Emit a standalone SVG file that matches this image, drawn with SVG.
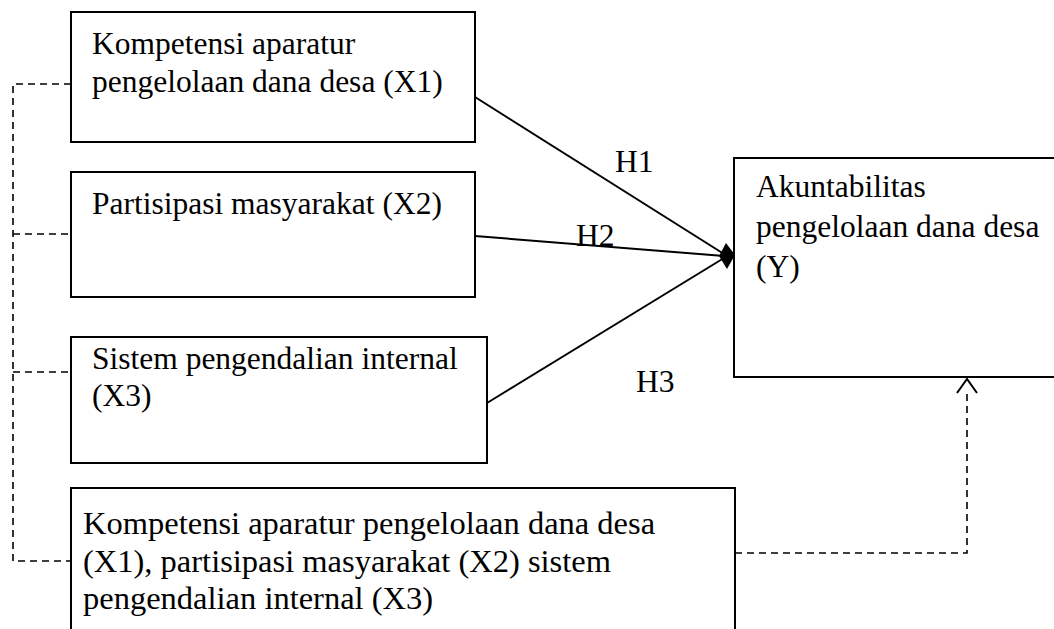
<svg xmlns="http://www.w3.org/2000/svg" width="1054" height="629" viewBox="0 0 1054 629">
<style>
.box{fill:#fff;stroke:#000;stroke-width:2}
.t{font-family:"Liberation Serif","Times New Roman",serif;font-size:31.5px;fill:#000}
.b{font-size:32.5px}
.ln{stroke:#000;stroke-width:2;fill:none}
.dash{stroke:#000;stroke-width:1.6;fill:none;stroke-dasharray:7,5}
</style>
<rect width="1054" height="629" fill="#fff"/>
<g id="connectors">
<path class="dash" d="M71,84 H13 V561 H71"/>
<path class="dash" d="M13,234 H71"/>
<path class="dash" d="M13,372 H71"/>
<path class="dash" d="M735,553 H967 V392"/>
<polyline class="ln" points="957,393 967,379 977,393"/>
<line class="ln" x1="475" y1="97" x2="724" y2="254"/>
<line class="ln" x1="475" y1="236" x2="724" y2="256"/>
<line class="ln" x1="487" y1="403" x2="724" y2="258"/>
<polygon points="735,255 726,243 719,256 727,269" fill="#000"/>
<text class="t" x="615" y="172">H1</text>
<text class="t" x="576" y="246">H2</text>
<text class="t" x="636" y="392">H3</text>
</g>
<g id="x1">
<rect class="box" x="71" y="12" width="404" height="130"/>
<text class="t" x="92" y="54">Kompetensi aparatur</text>
<text class="t" x="92" y="92">pengelolaan dana desa (X1)</text>
</g>
<g id="x2">
<rect class="box" x="71" y="172" width="404" height="125"/>
<text class="t" x="92" y="214">Partisipasi masyarakat (X2)</text>
</g>
<g id="x3">
<rect class="box" x="71" y="337" width="416" height="126"/>
<text class="t" x="92" y="369">Sistem pengendalian internal</text>
<text class="t" x="92" y="406">(X3)</text>
</g>
<g id="y">
<rect class="box" x="734" y="158" width="340" height="219"/>
<text class="t" x="756" y="197">Akuntabilitas</text>
<text class="t" x="756" y="237">pengelolaan dana desa</text>
<text class="t" x="756" y="277">(Y)</text>
</g>
<g id="x123">
<path class="box" d="M71,640 V488 H735 V640"/>
<text class="t b" x="83" y="534">Kompetensi aparatur pengelolaan dana desa</text>
<text class="t b" x="83" y="572">(X1), partisipasi masyarakat (X2) sistem</text>
<text class="t b" x="83" y="609">pengendalian internal (X3)</text>
</g>
</svg>
